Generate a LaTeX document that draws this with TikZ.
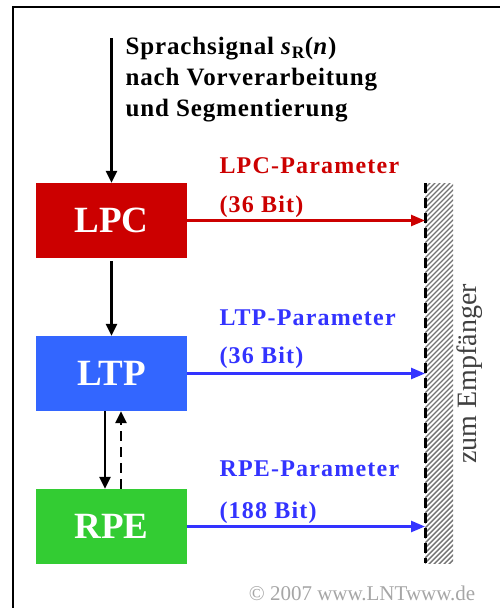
\documentclass[tikz,border=0pt]{standalone}
\usepackage{fontspec}
\setmainfont{Liberation Serif}
\newfontfamily\lblfont[LetterSpace=5]{Liberation Serif}
\newfontfamily\sigfont[LetterSpace=3.5]{Liberation Serif}
\usetikzlibrary{arrows.meta}

\definecolor{lpcred}{HTML}{CC0000}
\definecolor{ltpblue}{HTML}{3366FF}
\definecolor{rpegreen}{HTML}{33CC33}
\definecolor{parblue}{HTML}{3333FF}

\tikzset{
  block/.style={minimum width=151pt, minimum height=75pt, inner sep=0pt,
    text=white, font=\fontsize{37}{37}\selectfont\bfseries},
  flow/.style={line width=2.5pt, -{Triangle[length=12pt,width=11pt]}},
  toempf/.style={line width=2.5pt, -{Triangle[length=14pt,width=11pt]}},
  param/.style={anchor=base west, font=\lblfont\fontsize{24}{24}\selectfont\bfseries}
}

\begin{document}
\begin{tikzpicture}[x=1pt,y=-1pt]
    \useasboundingbox[fill=white] (0,0) rectangle (500,608);
    % frame
    \draw[line width=2pt] (13,608) -- (13,7) -- (500,7);

    % coder blocks
    \node[block, fill=lpcred] (lpc) at (111.5,220.5) {LPC};
    \node[block, fill=ltpblue] (ltp) at (111.5,373.5) {LTP};
    \node[block, fill=rpegreen] (rpe) at (111.5,526.5) {RPE};

    % input signal
    \coordinate (in) at (111.5,38);
    \node[anchor=north west, align=left, font=\sigfont\fontsize{25}{31}\selectfont\bfseries] (sig) at (122,34)
      {Sprachsignal \textit{s}\textsubscript{R}(\textit{n})\\ nach Vorverarbeitung\\ und Segmentierung};
    \draw[flow] (in) -- (lpc.north);
    \draw[flow, shorten <=3pt] (lpc.south) -- (ltp.north);
    \draw[flow] ([xshift=-6.5pt]ltp.south) -- ([xshift=-6.5pt]rpe.north);
    \draw[flow, dash pattern=on 10pt off 6pt] ([xshift=9.5pt]rpe.north) -- ([xshift=9.5pt]ltp.south);

    % receiver wall
    \coordinate (wtop) at (425,183);
    \coordinate (wbot) at (425,563);
    \begin{scope}
        \clip (425,183) rectangle (453,563);
        \foreach \y in {183,188,...,615}
            \draw[black!55, line width=1.4pt] (420,\y) -- ++(40,-40);
    \end{scope}
    \draw[line width=3pt, dash pattern=on 10pt off 5pt] (wtop) -- (wbot);
    \node[rotate=90, font=\fontsize{28}{28}\selectfont, text=black!75] (empf) at (470,374) {zum Empf\"anger};

    % parameters
    \node[param, text=lpcred] (lpcpar) at (216,173) {LPC-Parameter};
    \node[param, text=lpcred] (lpcbit) at (216,212) {(36 Bit)};
    \draw[toempf, lpcred] (lpc.east) -- (lpc.east -| wtop);

    \node[param, text=parblue] (ltppar) at (216,325) {LTP-Parameter};
    \node[param, text=parblue] (ltpbit) at (216,363) {(36 Bit)};
    \draw[toempf, parblue] (ltp.east) -- (ltp.east -| wtop);

    \node[param, text=parblue] (rpepar) at (216,476) {RPE-Parameter};
    \node[param, text=parblue] (rpebit) at (216,518) {(188 Bit)};
    \draw[toempf, parblue] (rpe.east) -- (rpe.east -| wtop);

    \node[font=\fontsize{21}{21}\selectfont, text=black!35] (copy) at (362,593) {\textcopyright{} 2007 www.LNTwww.de};
\end{tikzpicture}
\end{document}
